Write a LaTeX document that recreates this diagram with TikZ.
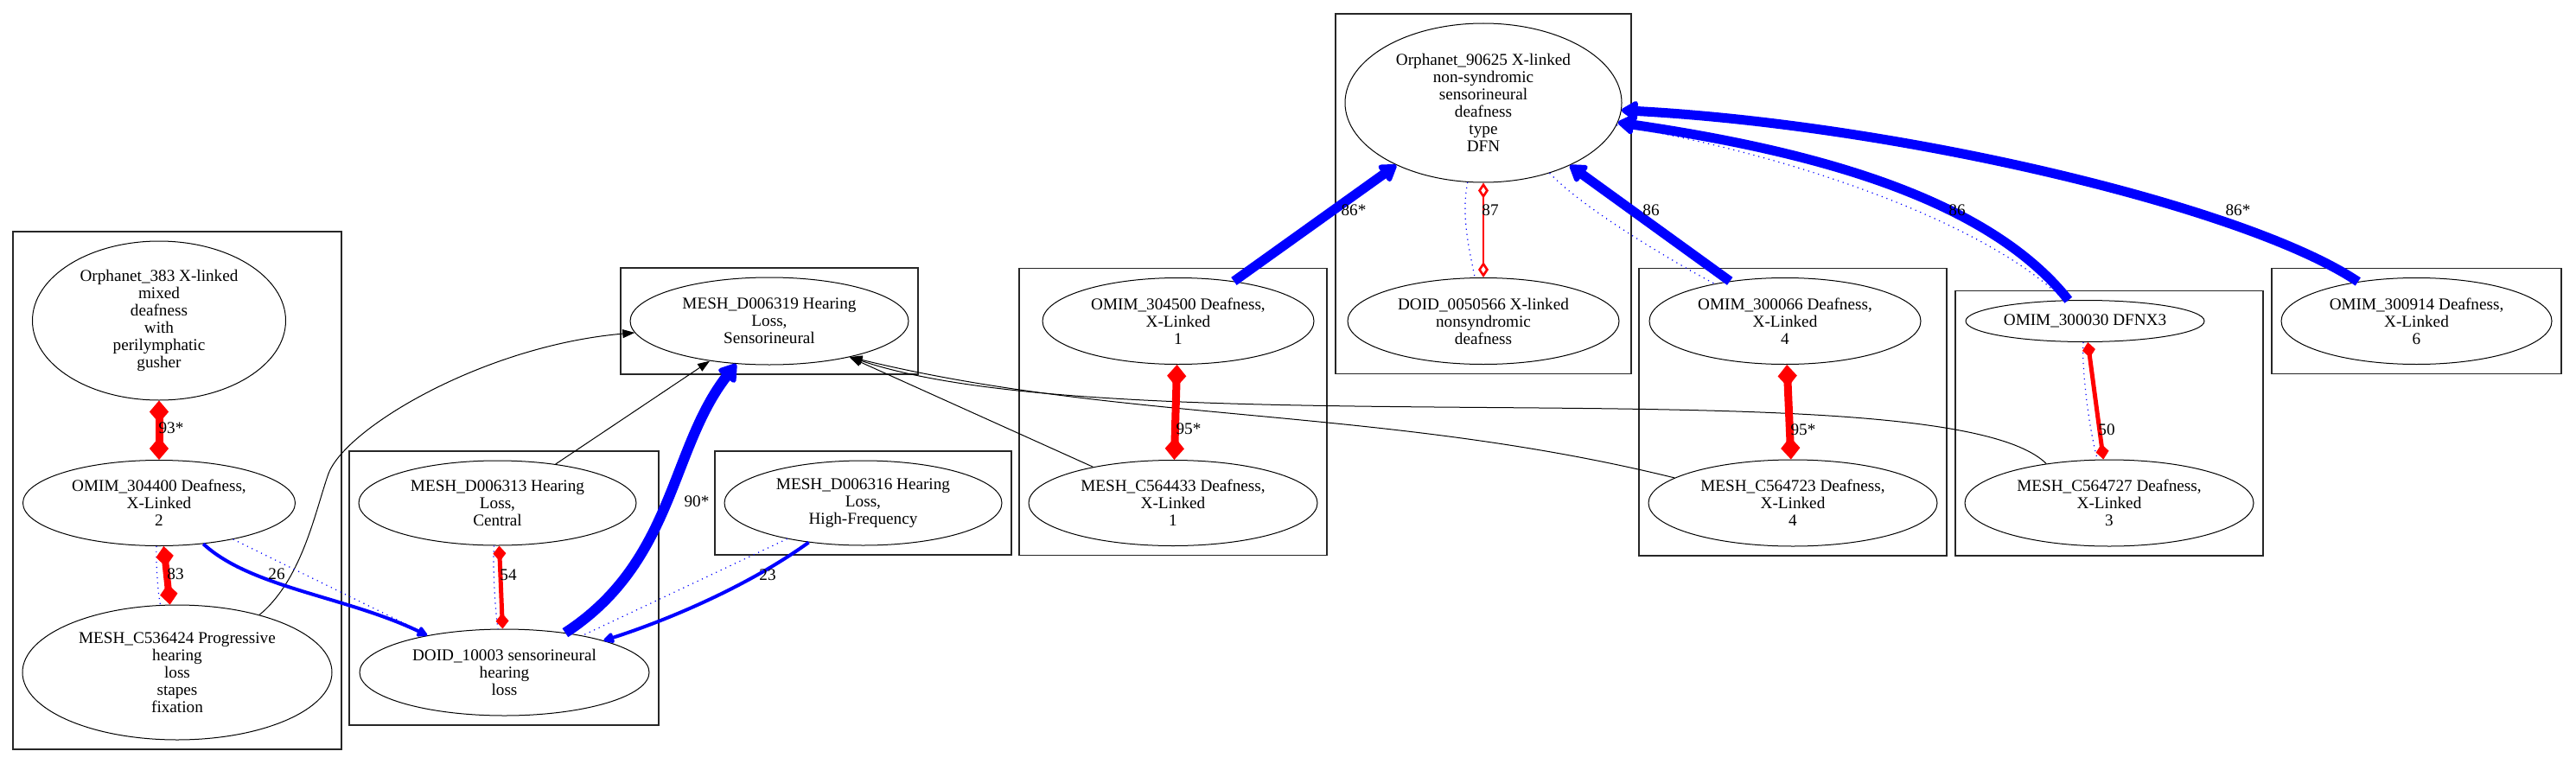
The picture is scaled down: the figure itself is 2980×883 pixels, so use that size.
\documentclass[tikz,border=0pt]{standalone}
\usepackage{fontspec}
\setmainfont{Liberation Serif}
\usetikzlibrary{arrows.meta,shapes.geometric,fit}

\begin{document}
\begin{tikzpicture}[x=0.5pt,y=-0.5pt,
  every node/.style={font=\fontsize{9.6}{10}\selectfont},
  term/.style 2 args={draw,ellipse,line width=.5pt,inner sep=0pt,align=center,
    minimum width=#1pt,minimum height=#2pt},
  cluster/.style={draw=black!85,line width=.65pt,inner sep=5.25pt},
  same/.style={red,line width=#1,
    arrows={Diamond[length=4pt 2,width=3pt 1.8]-Diamond[length=4pt 2,width=3pt 1.8]}},
  weaksame/.style={red,line width=1.3pt,
    arrows={Diamond[open,length=9pt,width=6pt]-Diamond[open,length=9pt,width=6pt]}},
  infer/.style={blue,line width=#1,arrows={-Triangle[length=5pt 1,width=3pt 1.8,round]}},
  isa/.style={line width=.5pt,arrows={-Triangle[length=7pt,width=5pt]}},
  alt/.style={blue,line width=.6pt,dash pattern=on .6pt off 2.4pt}]
  \useasboundingbox (0,0) rectangle (2980,883);
  % Terms (centres and radii in pixels of the original layout).
  \node[term={146.5}{92}] (o383) at (184,371) {Orphanet\_383 X-linked\\mixed\\deafness\\with\\perilymphatic\\gusher};
  \node[term={157.5}{49.5}] (o304400) at (184,582) {OMIM\_304400 Deafness,\\X-Linked\\2};
  \node[term={179}{78}] (c536424) at (205,778) {MESH\_C536424 Progressive\\hearing\\loss\\stapes\\fixation};
  \node[term={161}{50.5}] (d006319) at (890,371.5) {MESH\_D006319 Hearing\\Loss,\\Sensorineural};
  \node[term={160.5}{49}] (d006313) at (575.5,582) {MESH\_D006313 Hearing\\Loss,\\Central};
  \node[term={167.5}{50}] (doid10003) at (583.5,778) {DOID\_10003 sensorineural\\hearing\\loss};
  \node[term={160.5}{49}] (d006316) at (998.5,582) {MESH\_D006316 Hearing\\Loss,\\High-Frequency};
  \node[term={157}{50}] (o304500) at (1363,371.5) {OMIM\_304500 Deafness,\\X-Linked\\1};
  \node[term={167}{49.5}] (c564433) at (1357,582) {MESH\_C564433 Deafness,\\X-Linked\\1};
  \node[term={160}{92}] (o90625) at (1716,119) {Orphanet\_90625 X-linked\\non-syndromic\\sensorineural\\deafness\\type\\DFN};
  \node[term={157}{50}] (doid0050566) at (1716,371.5) {DOID\_0050566 X-linked\\nonsyndromic\\deafness};
  \node[term={157}{50}] (o300066) at (2065,371.5) {OMIM\_300066 Deafness,\\X-Linked\\4};
  \node[term={167}{50}] (c564723) at (2074,582) {MESH\_C564723 Deafness,\\X-Linked\\4};
  \node[term={138}{24}] (o300030) at (2412,371.5) {OMIM\_300030 DFNX3};
  \node[term={167}{50}] (c564727) at (2440,582) {MESH\_C564727 Deafness,\\X-Linked\\3};
  \node[term={156.5}{50}] (o300914) at (2795.5,371.5) {OMIM\_300914 Deafness,\\X-Linked\\6};
  % Clusters of equivalent terms.
  \node[cluster,fit=(o383)(o304400)(c536424)] (box1) {};
  \node[cluster,fit=(d006319)] (box2) {};
  \node[cluster,fit=(d006313)(doid10003)] (box3) {};
  \node[cluster,fit=(d006316)] (box4) {};
  \node[cluster,fit=(o304500)(c564433)] (box5) {};
  \node[cluster,fit=(o90625)(doid0050566)] (box6) {};
  \node[cluster,fit=(o300066)(c564723)] (box7) {};
  \node[cluster,fit=(o300030)(c564727)] (box8) {};
  \node[cluster,fit=(o300914)] (box9) {};
  % Subclass links into MESH_D006319.
  \draw[isa] (c536424.35) .. controls (350,670) and (365,590) .. (380,548)
    .. controls (400,495) and (560,400) .. (d006319);
  \draw[isa] (d006313) -- (d006319);
  \draw[isa] (c564433) -- (d006319);
  \draw[isa] (c564723.168) .. controls (1600,470) and (1300,490) .. (d006319.-24);
  \draw[isa] (c564727.148) .. controls (2250,420) and (1300,520) .. (d006319.-24);
  % Alternative (dotted) links.
  \draw[alt] (o304400) -- (doid10003);
  \draw[alt] (o304400) .. controls (180,650) and (183,690) .. (c536424);
  \draw[alt] (d006313) .. controls (570,650) and (572,700) .. (doid10003);
  \draw[alt] (d006316) -- (doid10003);
  \draw[alt] (o90625) .. controls (1690,250) and (1700,290) .. (doid0050566);
  \draw[alt] (o90625) .. controls (1830,240) and (1930,300) .. (o300066);
  \draw[alt] (o90625) .. controls (2080,180) and (2300,260) .. (o300030);
  \draw[alt] (o300030) .. controls (2408,420) and (2415,490) .. (c564727);
  % Equivalence links (red, both ends).
  \draw[same=4.5pt] (o383) -- (o304400);
  \draw[same=4pt] (o304400) -- (c536424);
  \draw[same=2.5pt] (d006313) -- (doid10003);
  \draw[same=4.5pt] (o304500) -- (c564433);
  \draw[weaksame] (o90625) -- (doid0050566);
  \draw[same=4.5pt] (o300066) -- (c564723);
  \draw[same=2.5pt] (o300030) -- (c564727);
  % Inferred links (blue).
  \draw[infer=2pt] (o304400) .. controls (290,680) and (400,690) .. (doid10003);
  \draw[infer=2pt] (d006316) .. controls (870,675) and (780,715) .. (doid10003);
  \draw[infer=6pt] (doid10003) .. controls (780,650) and (775,520) .. (d006319);
  \draw[infer=5.5pt] (o304500) -- (o90625);
  \draw[infer=5.5pt] (o300066) -- (o90625);
  \draw[infer=5.5pt] (o300030) .. controls (2300,230) and (2100,175) .. (o90625);
  \draw[infer=5.5pt] (o300914) .. controls (2600,240) and (2200,145) .. (o90625);
  % Link scores.
  \node (w93) at (198,495) {93*};
  \node (w83) at (203,664) {83};
  \node (w26) at (320,664) {26};
  \node (w54) at (588,665) {54};
  \node (w90) at (806,580) {90*};
  \node (w23) at (888,665) {23};
  \node (w95a) at (1375,496) {95*};
  \node (w86a) at (1566,243) {86*};
  \node (w87) at (1724,243) {87};
  \node (w86b) at (1910,243) {86};
  \node (w86c) at (2264,243) {86};
  \node (w95b) at (2086,497) {95*};
  \node (w50) at (2437,497) {50};
  \node (w86d) at (2589,243) {86*};
\end{tikzpicture}
\end{document}
